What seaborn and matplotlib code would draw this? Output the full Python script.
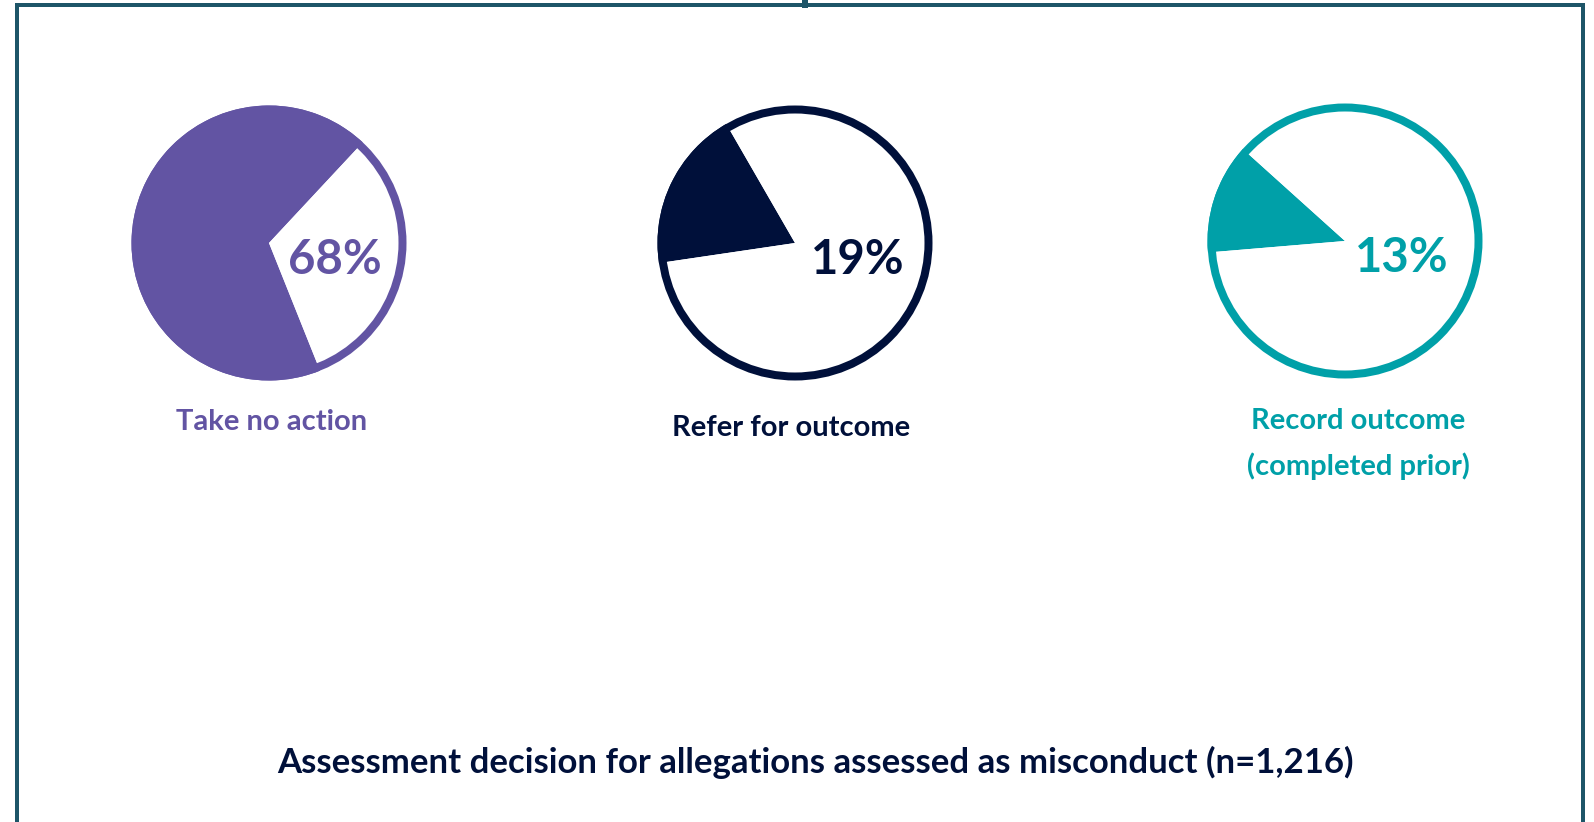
import matplotlib
matplotlib.use("Agg")
import matplotlib.pyplot as plt
from matplotlib.patches import Circle
from matplotlib.lines import Line2D
import seaborn as sns

# ---- data ----
categories = ["Take no action", "Refer for outcome", "Record outcome\n(completed prior)"]
shares = [68, 19, 13]
pct_labels = ["68%", "19%", "13%"]
title = "Assessment decision for allegations assessed as misconduct (n=1,216)"

# ---- style ----
sns.set_theme(style="white")
plt.rcParams['font.family'] = ['Lato', 'DejaVu Sans']
colors = ["#6254A3", "#00103A", "#00A0A8"]
frame_col = "#1D5568"

W, H = 1594, 822
fig = plt.figure(figsize=(W / 100, H / 100), dpi=100)
fig.patch.set_facecolor("white")

# pie layout in pixels (centre x, centre y, start angle)
centres = [(269, 243), (795, 243), (1345, 241)]
starts = [47, 120, 138]
r = 137.5
pad = 1.02
ring_px = 8
label_pos = [(272, 422), (791, 428), (1358, 444)]
pct_off = [(0.48, -0.125), (0.455, -0.125), (0.415, -0.125)]

for i in range(3):
    cx, cy = centres[i]
    half = r * pad
    ax = fig.add_axes([(cx - half) / W, (H - cy - half) / H, 2 * half / W, 2 * half / H])
    ax.pie([shares[i], 100 - shares[i]], colors=[colors[i], "white"],
           startangle=starts[i], counterclock=True, radius=1.0,
           wedgeprops=dict(linewidth=0))
    ring_r = 1 - (ring_px / 2) / r
    ax.add_patch(Circle((0, 0), ring_r, fill=False, edgecolor=colors[i],
                        linewidth=ring_px * 72 / 100))
    ax.text(pct_off[i][0], pct_off[i][1], pct_labels[i], ha="center", va="center",
            fontsize=34, fontweight="bold", color=colors[i])
    ax.set_xlim(-pad, pad)
    ax.set_ylim(-pad, pad)
    ax.set_aspect("equal")
    ax.axis("off")
    lx, ly = label_pos[i]
    fig.text(lx / W, 1 - ly / H, categories[i], ha="center", va="center",
             fontsize=21, fontweight="bold", color=colors[i], linespacing=1.85)

fig.text(815 / W, 1 - 762 / H, title, ha="center", va="center",
         fontsize=25, fontweight="bold", color="#00103A")

# frame
lw = 4 * 72 / 100
def fl(xs, ys, w=lw):
    fig.add_artist(Line2D([x / W for x in xs], [1 - y / H for y in ys],
                          color=frame_col, linewidth=w, transform=fig.transFigure,
                          solid_capstyle="projecting"))
fl([17, 1583], [5, 5])
fl([17, 17], [5, 830])
fl([1583, 1583], [5, 830])
fl([805, 805], [0, 5], w=6 * 72 / 100)

fig.savefig("out.png", dpi=100, facecolor="white")
